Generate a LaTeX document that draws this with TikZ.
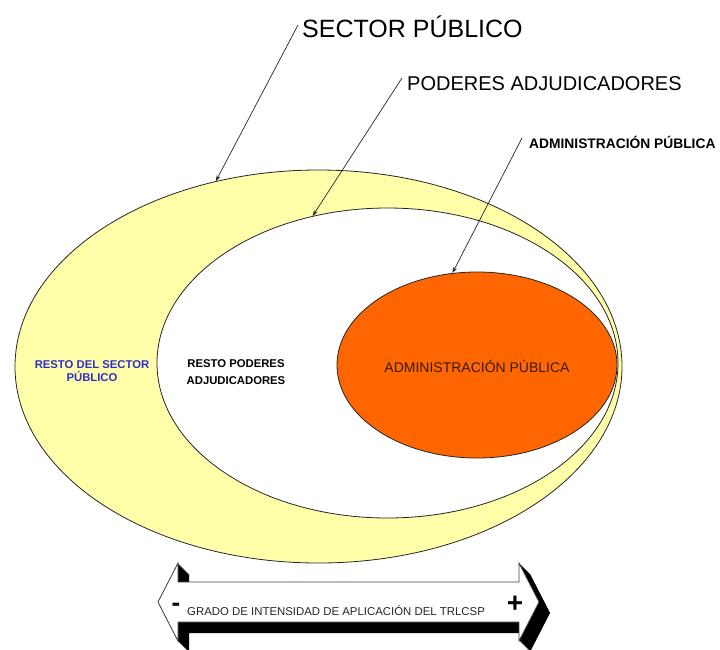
\documentclass[tikz,border=0pt]{standalone}
\usepackage{fontspec}
\setmainfont{Liberation Sans}
\usetikzlibrary{shapes.geometric,arrows.meta}
\definecolor{ylw}{HTML}{FFFFAA}
\definecolor{org}{HTML}{FF6600}
\definecolor{orgtxt}{HTML}{3A1A00}
\definecolor{bluetxt}{HTML}{2E2ECC}
\tikzset{
  ell/.style={ellipse, draw=black!85, line width=0.8pt, inner sep=0pt},
  lbl/.style={anchor=base west, inner sep=0pt},
  lead/.style={draw=black!85, line width=0.7pt, -{Stealth[length=6pt,width=4pt]}},
}
\begin{document}
\begin{tikzpicture}[x=1pt,y=-1pt]
\path[use as bounding box] (0,0) rectangle (720,649);
\clip (0,0) rectangle (720,649);

% ellipses
\node[ell, fill=ylw, minimum width=607pt, minimum height=393pt] (outer) at (318.5,366.5) {};
\node[ell, fill=white, minimum width=461pt, minimum height=310pt] (inner) at (387.5,363) {};
\node[ell, fill=org, minimum width=280pt, minimum height=186pt] (admin) at (477,365) {};

% texts in ellipses
\node[anchor=base, inner sep=0pt, text=orgtxt, font=\fontsize{14}{16}\selectfont] (admintxt) at (477,372) {ADMINISTRACIÓN PÚBLICA};
\node[align=center, inner sep=0pt, text=bluetxt, font=\bfseries\fontsize{11.3}{13.5}\selectfont] (resto) at (92,371.3) {RESTO DEL SECTOR\\PÚBLICO};
\node[align=center, inner sep=0pt, text=black, font=\bfseries\fontsize{11.3}{16.7}\selectfont] (restopod) at (236,372) {RESTO PODERES\\ADJUDICADORES};

% top labels
\node[lbl, font=\fontsize{25}{30}\selectfont] (sp) at (302,37) {SECTOR PÚBLICO};
\node[lbl, font=\fontsize{20}{24}\selectfont] (pa) at (407,90) {PODERES ADJUDICADORES};
\node[lbl, font=\bfseries\fontsize{13.8}{16}\selectfont] (ap) at (529,148) {ADMINISTRACIÓN PÚBLICA};

\coordinate (spA) at (298,25);
\coordinate (paA) at (402,78);
\coordinate (apA) at (522,138);
\draw[lead] (spA) -- (outer.119.7);
\draw[lead] (paA) -- (inner.117);
\draw[lead] (apA) -- (admin.105.2);

% bottom double arrow with extruded shadow
\foreach \t in {0,0.5,...,11}{
  \fill[black, shift={(\t,\t)}] (158,602) -- (178,563) -- (178,582) -- (519,582) -- (519,563) -- (539,602) -- (519,641) -- (519,622) -- (178,622) -- (178,641) -- cycle;
}
\filldraw[fill=white, draw=black!75, line width=0.8pt] (158,602) -- (178,563) -- (178,582) -- (519,582) -- (519,563) -- (539,602) -- (519,641) -- (519,622) -- (178,622) -- (178,641) -- cycle;

\node[lbl, font=\fontsize{11.4}{13}\selectfont, text=black!85] (grado) at (187,615) {GRADO DE INTENSIDAD DE APLICACIÓN DEL TRLCSP};
\node[anchor=base, inner sep=0pt, font=\bfseries\fontsize{26}{28}\selectfont] (minus) at (176,611.5) {-};
\node[anchor=base, inner sep=0pt, font=\bfseries\fontsize{28}{30}\selectfont] (plus) at (515,612) {+};
\end{tikzpicture}
\end{document}
